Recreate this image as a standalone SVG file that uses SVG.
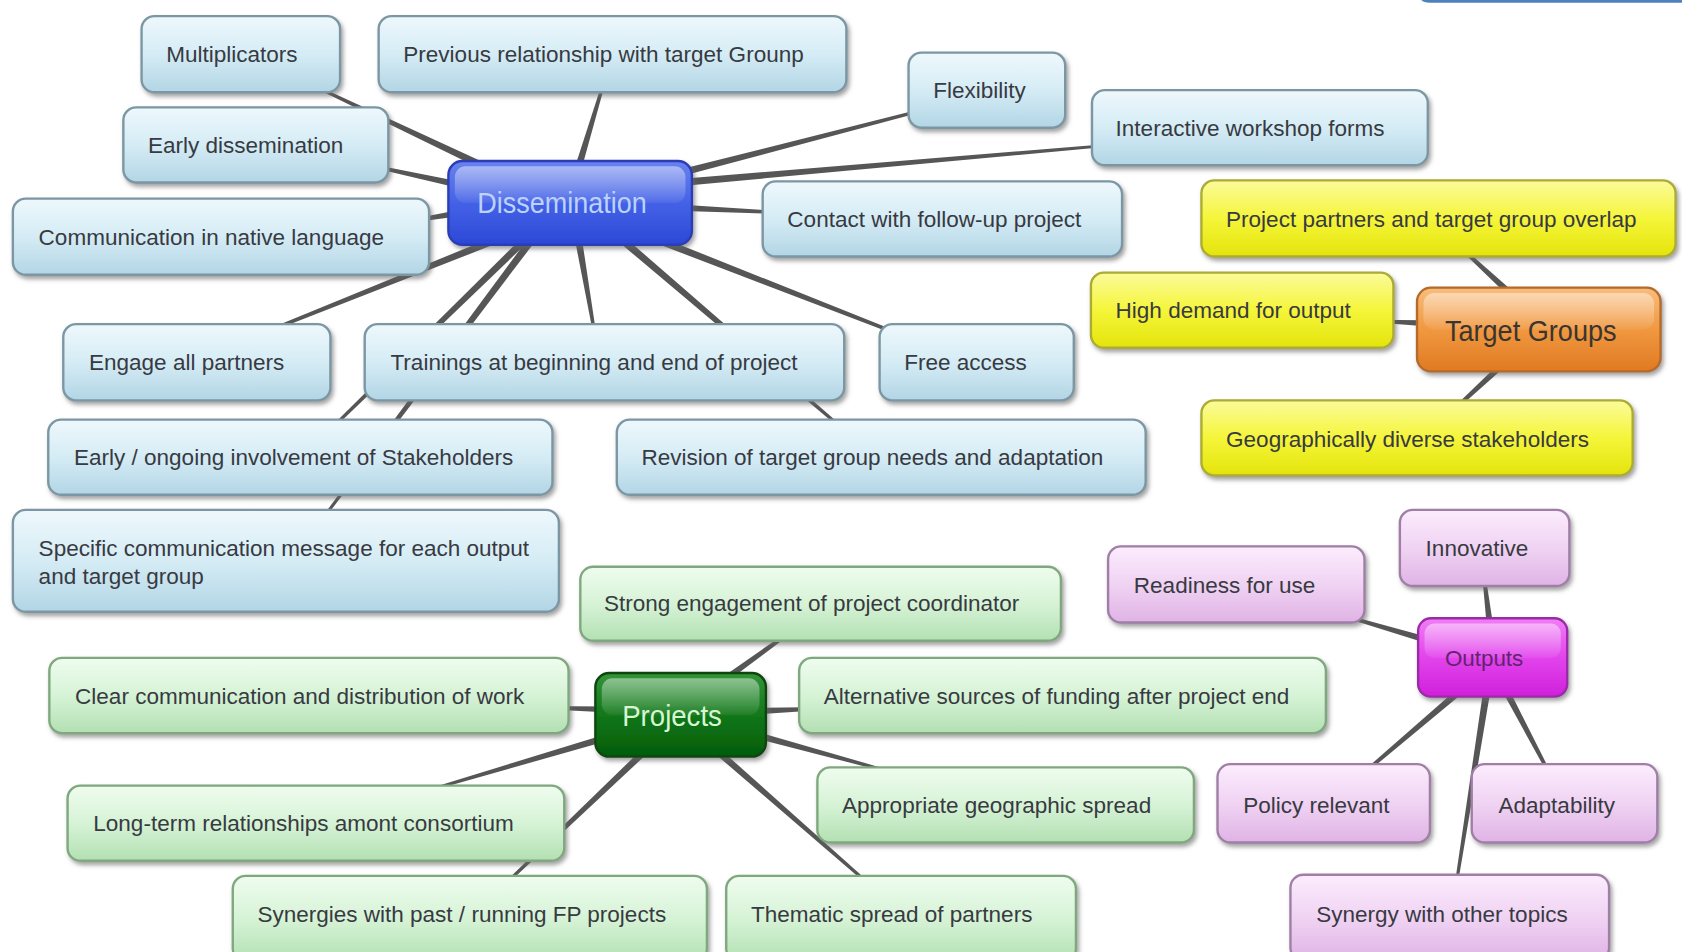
<svg xmlns="http://www.w3.org/2000/svg" width="1682" height="952" viewBox="0 0 1682 952">
  <defs>
    <linearGradient id="gBlue" x1="0" y1="0" x2="0" y2="1">
      <stop offset="0" stop-color="#eef8fc"/>
      <stop offset="0.5" stop-color="#d5ecf5"/>
      <stop offset="1" stop-color="#b2d5e5"/>
    </linearGradient>
    <linearGradient id="gGreen" x1="0" y1="0" x2="0" y2="1">
      <stop offset="0" stop-color="#effcef"/>
      <stop offset="0.5" stop-color="#d6f3d6"/>
      <stop offset="1" stop-color="#b3e0b3"/>
    </linearGradient>
    <linearGradient id="gYellow" x1="0" y1="0" x2="0" y2="1">
      <stop offset="0" stop-color="#fbfb9c"/>
      <stop offset="0.5" stop-color="#f5f53a"/>
      <stop offset="1" stop-color="#e4e40c"/>
    </linearGradient>
    <linearGradient id="gPink" x1="0" y1="0" x2="0" y2="1">
      <stop offset="0" stop-color="#fcecfd"/>
      <stop offset="0.5" stop-color="#f0d3f3"/>
      <stop offset="1" stop-color="#dfb3e5"/>
    </linearGradient>
    <linearGradient id="gHubBlue" x1="0" y1="0" x2="0" y2="1">
      <stop offset="0" stop-color="#6a82ee"/>
      <stop offset="0.5" stop-color="#4462e6"/>
      <stop offset="1" stop-color="#2c48d6"/>
    </linearGradient>
    <linearGradient id="gHubOrange" x1="0" y1="0" x2="0" y2="1">
      <stop offset="0" stop-color="#f8bd7c"/>
      <stop offset="0.5" stop-color="#f09840"/>
      <stop offset="1" stop-color="#e07a22"/>
    </linearGradient>
    <linearGradient id="gHubMagenta" x1="0" y1="0" x2="0" y2="1">
      <stop offset="0" stop-color="#f07ef6"/>
      <stop offset="0.5" stop-color="#e244ec"/>
      <stop offset="1" stop-color="#d020dc"/>
    </linearGradient>
    <linearGradient id="gHubGreen" x1="0" y1="0" x2="0" y2="1">
      <stop offset="0" stop-color="#35943a"/>
      <stop offset="0.5" stop-color="#12771a"/>
      <stop offset="1" stop-color="#035c08"/>
    </linearGradient>
    <linearGradient id="gGloss" x1="0" y1="0" x2="0" y2="1">
      <stop offset="0" stop-color="#ffffff" stop-opacity="0.45"/>
      <stop offset="1" stop-color="#ffffff" stop-opacity="0.06"/>
    </linearGradient>
    <filter id="shadow" x="-10%" y="-20%" width="125%" height="150%">
      <feDropShadow dx="2" dy="3" stdDeviation="2" flood-color="#666666" flood-opacity="0.6"/>
    </filter>
  </defs>
  <style>
    .node { stroke-width: 2.2; filter: url(#shadow); }
    .blue { fill: url(#gBlue); stroke: #7b97a3; }
    .green { fill: url(#gGreen); stroke: #7fa87f; }
    .yellow { fill: url(#gYellow); stroke: #abab34; }
    .pink { fill: url(#gPink); stroke: #9f7fa6; }
    .hubBlue { fill: url(#gHubBlue); stroke: #2a3eb6; }
    .hubOrange { fill: url(#gHubOrange); stroke: #b56a2c; }
    .hubMagenta { fill: url(#gHubMagenta); stroke: #9a2aa6; }
    .hubGreen { fill: url(#gHubGreen); stroke: #0b470b; }
    .gloss { fill: url(#gGloss); }
    .t { font-family: "Liberation Sans", Arial, sans-serif; font-size: 21px; fill: #383a42; }
    .ht { font-family: "Liberation Sans", Arial, sans-serif; font-size: 27px; }
    .link { fill: #565656; }
  </style>

  <rect width="1682" height="952" fill="#ffffff"/>

  <g transform="scale(1.0727 1.0733)">
    <!-- edge of a frame peeking in at the top right -->
    <path d="M1325,0 Q1327,2.6 1333,2.6 L1568,2.6 L1568,0 Z" fill="#4f81bd"/>

    <!-- tapered links, hub end wide, leaf end narrow -->
    <g id="connectors">
      <!-- Dissemination -->
      <polygon class="link" points="471.5,160.8 280.5,72.9 279.5,75.1 468.5,167.2"/>
      <polygon class="link" points="538.4,171 566.2,70.4 563.8,69.6 531.6,169"/>
      <polygon class="link" points="450.7,173.6 330.3,149.8 329.7,152.2 449.3,180.4"/>
      <polygon class="link" points="449.4,191.5 369.8,206.8 370.2,209.2 450.6,198.5"/>
      <polygon class="link" points="600.9,173.4 880.3,98.7 879.7,96.3 599.1,166.6"/>
      <polygon class="link" points="600.3,176.5 1050.1,135.2 1049.9,132.8 599.7,169.5"/>
      <polygon class="link" points="599.8,195.5 739.9,199.7 740.1,197.3 600.2,188.5"/>
      <polygon class="link" points="469.7,216.8 220.5,318.8 221.5,321.2 472.3,223.2"/>
      <polygon class="link" points="533.5,210.6 554.8,320.2 557.2,319.8 540.5,209.4"/>
      <polygon class="link" points="597.7,221.3 872.5,326.2 873.5,323.8 600.3,214.7"/>
      <polygon class="link" points="567.7,217.7 797.2,411 798.8,409 572.3,212.3"/>
      <polygon class="link" points="495.6,212.5 297.1,409.1 298.9,410.9 500.4,217.5"/>
      <polygon class="link" points="499.2,212.9 291,494.3 293,495.8 504.8,217.1"/>
      <!-- Target Groups -->
      <polygon class="link" points="1428.4,287.4 1350.8,219.1 1349.2,220.9 1423.6,292.6"/>
      <polygon class="link" points="1350.2,298.5 1280.1,297.8 1280,300.3 1349.9,305.5"/>
      <polygon class="link" points="1419.6,317.4 1340.2,394.1 1341.8,395.9 1424.4,322.6"/>
      <!-- Outputs -->
      <polygon class="link" points="1394.5,599.6 1383.2,524.9 1380.8,525.1 1387.5,600.4"/>
      <polygon class="link" points="1361,601.6 1240.4,568.8 1239.7,571.2 1359,608.4"/>
      <polygon class="link" points="1380.7,622.3 1253.2,734 1254.8,736 1385.3,627.7"/>
      <polygon class="link" points="1390.9,626.6 1450.9,735.6 1453.1,734.4 1397.1,623.4"/>
      <polygon class="link" points="1385.5,624.5 1353.8,839.8 1356.2,840.2 1392.5,625.5"/>
      <!-- Projects -->
      <polygon class="link" points="654,652.8 756.7,576 755.3,574 650,647.2"/>
      <polygon class="link" points="690.1,666.5 770.1,661.3 770,658.8 689.9,659.5"/>
      <polygon class="link" points="679.1,681.4 829.7,720.2 830.3,717.8 680.9,674.6"/>
      <polygon class="link" points="643.7,682.6 822.2,835.9 823.8,834.1 648.3,677.4"/>
      <polygon class="link" points="600.1,658.5 500,657.8 500,660.3 599.9,665.5"/>
      <polygon class="link" points="599,673.6 399.6,734.8 400.4,737.2 601,680.4"/>
      <polygon class="link" points="619.6,677.5 458.1,834.1 459.9,835.9 624.4,682.5"/>
    </g>

    <!-- Dissemination branch -->
    <g id="n-multiplicators"><rect class="node blue" x="132" y="15" width="185" height="71" rx="12"/><text class="t" x="155" y="57.5">Multiplicators</text></g>
    <g id="n-previous"><rect class="node blue" x="353" y="15" width="436" height="71" rx="12"/><text class="t" x="376" y="57.5">Previous relationship with target Grounp</text></g>
    <g id="n-flexibility"><rect class="node blue" x="847" y="49" width="146" height="70" rx="12"/><text class="t" x="870" y="91.5">Flexibility</text></g>
    <g id="n-interactive"><rect class="node blue" x="1018" y="84" width="313" height="70" rx="12"/><text class="t" x="1040" y="126.5">Interactive workshop forms</text></g>
    <g id="n-early-dissemination"><rect class="node blue" x="115" y="100" width="247" height="70" rx="12"/><text class="t" x="138" y="142.5">Early dissemination</text></g>
    <g id="n-native-language"><rect class="node blue" x="12" y="185" width="388" height="71" rx="12"/><text class="t" x="36" y="228.5">Communication in native language</text></g>
    <g id="n-follow-up"><rect class="node blue" x="711" y="169" width="335" height="70" rx="12"/><text class="t" x="734" y="211.5">Contact with follow-up project</text></g>
    <g id="n-engage"><rect class="node blue" x="59" y="302" width="249" height="71" rx="12"/><text class="t" x="83" y="344.5">Engage all partners</text></g>
    <g id="n-trainings"><rect class="node blue" x="340" y="302" width="447" height="71" rx="12"/><text class="t" x="364" y="344.5">Trainings at beginning and end of project</text></g>
    <g id="n-free-access"><rect class="node blue" x="820" y="302" width="181" height="71" rx="12"/><text class="t" x="843" y="344.5">Free access</text></g>
    <g id="n-stakeholders"><rect class="node blue" x="45" y="391" width="470" height="70" rx="12"/><text class="t" x="69" y="433.5">Early / ongoing involvement of Stakeholders</text></g>
    <g id="n-revision"><rect class="node blue" x="575" y="391" width="493" height="70" rx="12"/><text class="t" x="598" y="433.5">Revision of target group needs and adaptation</text></g>
    <g id="n-specific-message"><rect class="node blue" x="12" y="475" width="509" height="95" rx="12"/><text class="t" x="36" y="518.5">Specific communication message for each output</text><text class="t" x="36" y="544.5">and target group</text></g>
    <g id="hub-dissemination"><rect class="node hubBlue" x="418" y="150" width="227" height="78" rx="13"/><rect class="gloss" x="424" y="155" width="215" height="34" rx="10"/><text class="ht" x="445" y="198.5" fill="#bcd2ff" textLength="158" lengthAdjust="spacingAndGlyphs">Dissemination</text></g>

    <!-- Target Groups branch -->
    <g id="n-overlap"><rect class="node yellow" x="1120" y="168" width="442" height="71" rx="12"/><text class="t" x="1143" y="211.5">Project partners and target group overlap</text></g>
    <g id="n-high-demand"><rect class="node yellow" x="1017" y="254" width="282" height="70" rx="12"/><text class="t" x="1040" y="296.5">High demand for output</text></g>
    <g id="n-geographic-stakeholders"><rect class="node yellow" x="1120" y="373" width="402" height="70" rx="12"/><text class="t" x="1143" y="416.5">Geographically diverse stakeholders</text></g>
    <g id="hub-target-groups"><rect class="node hubOrange" x="1321" y="268" width="227" height="78" rx="13"/><rect class="gloss" x="1327" y="273" width="215" height="34" rx="10"/><text class="ht" x="1347" y="317.5" fill="#3a3530" textLength="160" lengthAdjust="spacingAndGlyphs">Target Groups</text></g>

    <!-- Outputs branch -->
    <g id="n-innovative"><rect class="node pink" x="1305" y="475" width="158" height="71" rx="12"/><text class="t" x="1329" y="518.5">Innovative</text></g>
    <g id="n-readiness"><rect class="node pink" x="1033" y="509" width="239" height="71" rx="12"/><text class="t" x="1057" y="552.5">Readiness for use</text></g>
    <g id="n-policy"><rect class="node pink" x="1135" y="712" width="198" height="73" rx="12"/><text class="t" x="1159" y="757.5">Policy relevant</text></g>
    <g id="n-adaptability"><rect class="node pink" x="1372" y="712" width="173" height="73" rx="12"/><text class="t" x="1397" y="757.5">Adaptability</text></g>
    <g id="n-synergy-topics"><rect class="node pink" x="1203" y="815" width="297" height="80" rx="12"/><text class="t" x="1227" y="859.5">Synergy with other topics</text></g>
    <g id="hub-outputs"><rect class="node hubMagenta" x="1322" y="576" width="139" height="73" rx="12"/><rect class="gloss" x="1328" y="581" width="127" height="32" rx="9"/><text class="t" x="1347" y="620.5" style="fill:#62246f" textLength="73" lengthAdjust="spacingAndGlyphs">Outputs</text></g>

    <!-- Projects branch -->
    <g id="n-coordinator"><rect class="node green" x="541" y="528" width="448" height="69" rx="12"/><text class="t" x="563" y="569.5">Strong engagement of project coordinator</text></g>
    <g id="n-clear-communication"><rect class="node green" x="46" y="613" width="484" height="70" rx="12"/><text class="t" x="70" y="655.5">Clear communication and distribution of work</text></g>
    <g id="n-funding"><rect class="node green" x="745" y="613" width="491" height="70" rx="12"/><text class="t" x="768" y="655.5">Alternative sources of funding after project end</text></g>
    <g id="n-long-term"><rect class="node green" x="63" y="732" width="463" height="70" rx="12"/><text class="t" x="87" y="774.5">Long-term relationships amont consortium</text></g>
    <g id="n-geographic-spread"><rect class="node green" x="762" y="715" width="351" height="70" rx="12"/><text class="t" x="785" y="757.5">Appropriate geographic spread</text></g>
    <g id="n-fp-projects"><rect class="node green" x="217" y="816" width="442" height="80" rx="12"/><text class="t" x="240" y="859.5">Synergies with past / running FP projects</text></g>
    <g id="n-thematic"><rect class="node green" x="677" y="816" width="326" height="80" rx="12"/><text class="t" x="700" y="859.5">Thematic spread of partners</text></g>
    <g id="hub-projects"><rect class="node hubGreen" x="555" y="627" width="159" height="78" rx="13"/><rect class="gloss" x="561" y="632" width="147" height="34" rx="10"/><text class="ht" x="580" y="676" fill="#d6f6d2" textLength="93" lengthAdjust="spacingAndGlyphs">Projects</text></g>
  </g>
</svg>
